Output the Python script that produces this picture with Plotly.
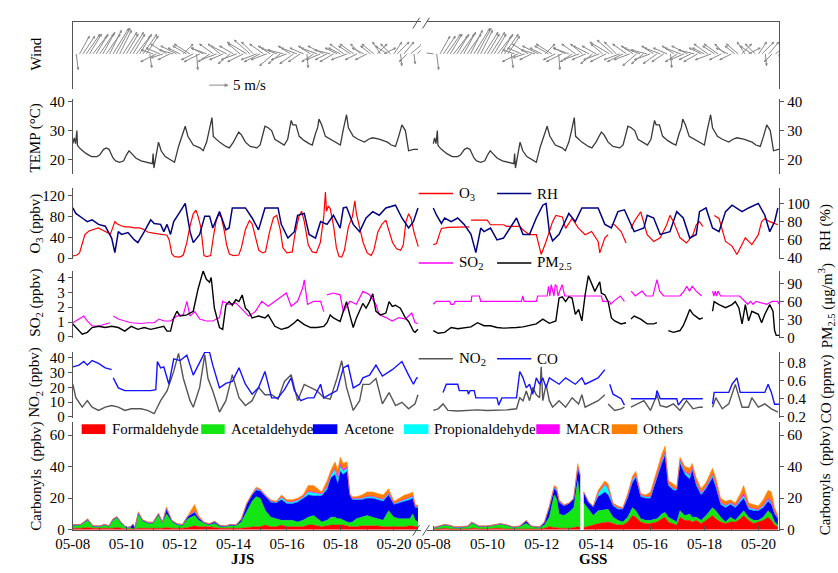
import math
import pandas as pd
import plotly.graph_objects as go

W, H = 838, 573
FONT = "Liberation Serif"
BASE = pd.Timestamp("2017-05-08 00:00")

# ---------------- data: (day of May, value) ----------------
temp = [(8.0,25.5),(8.05,27.5),(8.1,25.5),(8.15,30),(8.17,25),(8.2,24.5),(8.3,23.5),(8.5,22),(8.7,21),(8.9,21),
        (9.0,21.5),(9.15,23.5),(9.25,24),(9.35,23.5),(9.5,20.5),(9.6,19.5),(9.75,19),(9.9,19.5),
        (10.0,21.5),(10.1,23),(10.2,22),(10.35,20.5),(10.55,19.5),(10.8,19),(10.97,18.5),
        (11.0,22),(11.03,17),(11.2,26),(11.3,23),(11.45,21),(11.65,20),(11.8,19),(11.95,24.5),
        (12.05,27),(12.13,29.5),(12.2,31.5),(12.3,28),(12.5,25),(12.75,24),(12.87,23),
        (13.0,26),(13.1,30),(13.2,34.5),(13.25,28),(13.35,27),(13.48,26),(13.72,24.5),(13.85,24),
        (14.0,26),(14.1,28),(14.2,29.5),(14.3,28.5),(14.45,26),(14.63,24.5),(14.88,24),
        (15.0,25),(15.1,29),(15.18,31.5),(15.3,31),(15.43,30),(15.55,27),(15.73,26),(15.9,25),
        (16.03,27),(16.1,31),(16.16,33.5),(16.22,32),(16.34,32),(16.46,28),(16.65,26.5),(16.83,25.5),(16.95,25),
        (17.07,29),(17.15,31),(17.2,34),(17.3,32),(17.44,28),(17.62,27),(17.8,26),
        (18.0,25),(18.1,30),(18.17,33),(18.23,35.5),(18.3,31),(18.48,28),(18.66,27),(18.9,26),
        (19.05,27),(19.2,27.5),(19.45,27),(19.6,26.5),(19.76,26),(19.9,25),
        (20.06,24.5),(20.18,28),(20.25,30),(20.3,32),(20.43,30),(20.5,26),(20.55,23),(20.73,23.5),(20.9,23.5)]

o3_jjs = [(8.0,4),(8.15,6),(8.25,10),(8.35,30),(8.45,45),(8.6,52),(8.75,55),(8.95,58),(9.1,54),(9.25,50),(9.4,46),
          (9.5,60),(9.57,70),(9.65,66),(9.8,62),(9.95,60),(10.1,60),(10.3,58),(10.5,58),(10.65,55),(10.8,50),
          (11.0,48),(11.2,47),(11.4,45),(11.52,44),(11.6,35),(11.7,8),(11.8,3),(12.0,2),(12.13,6),(12.26,30),
          (12.38,62),(12.5,85),(12.6,92),(12.68,80),(12.78,60),(12.85,30),(12.9,5),(13.0,3),(13.15,5),(13.25,40),
          (13.35,70),(13.45,85),(13.55,78),(13.65,55),(13.75,25),(13.85,8),(14.0,5),(14.2,6),(14.3,20),(14.45,55),
          (14.6,72),(14.7,66),(14.85,35),(14.95,15),(15.1,10),(15.2,12),(15.35,50),(15.5,78),(15.62,82),(15.75,55),
          (15.85,20),(16.0,10),(16.2,12),(16.3,45),(16.45,80),(16.55,90),(16.65,70),(16.8,25),(16.95,12),(17.1,10),
          (17.25,30),(17.38,80),(17.44,127),(17.48,90),(17.55,100),(17.62,95),(17.75,60),(17.85,20),(17.95,3),
          (18.05,2),(18.15,15),(18.3,60),(18.45,80),(18.54,110),(18.6,85),(18.72,60),(18.85,30),(19.0,10),
          (19.15,5),(19.25,15),(19.4,50),(19.55,65),(19.7,73),(19.8,55),(19.95,30),(20.1,18),(20.25,15),
          (20.35,25),(20.45,70),(20.55,85),(20.65,75),(20.75,50),(20.85,35),(20.91,22)]

rh_jjs = [(8.0,95),(8.11,89),(8.35,84),(8.54,80),(8.72,82),(8.96,77),(9.21,75),(9.45,62),(9.57,46),(9.7,69),
          (9.82,66),(10.06,68),(10.3,60),(10.43,57),(10.67,69),(10.91,82),(11.04,78),(11.28,77),(11.4,69),
          (11.52,77),(11.65,66),(11.77,80),(12.01,91),(12.2,100),(12.38,69),(12.5,57),(12.74,66),(12.93,86),
          (13.11,86),(13.23,73),(13.48,91),(13.72,71),(13.84,73),(13.96,95),(14.45,95),(14.7,84),(14.94,71),
          (15.18,95),(15.67,95),(15.79,77),(16.04,62),(16.28,69),(16.4,87),(16.65,89),(16.83,66),(17.07,62),
          (17.26,80),(17.5,77),(17.74,87),(17.99,73),(18.11,95),(18.23,96),(18.48,77),(18.72,69),(18.96,84),
          (19.21,91),(19.45,87),(19.7,95),(20.06,98),(20.3,84),(20.55,73),(20.73,80),(20.9,95)]

o3_gss = [(8.0,26),(8.12,28),(8.22,45),(8.3,57),(8.54,59),(9.02,59),(9.14,60),(9.33,60),(9.36,None),(9.39,73),
          (9.99,73),(10.11,64),(10.59,64),(10.71,61),(11.19,61),(11.31,54),(11.55,45),(11.8,45),(11.92,20),
          (11.98,7),(12.16,32),(12.4,70),(12.52,82),(12.76,79),(12.88,57),(13.12,76),(13.36,57),(13.6,45),
          (13.84,51),(14.08,32),(14.14,10),(14.33,39),(14.45,45),(14.5,None),(14.57,64),(14.69,64),(14.93,51),
          (15.11,29),(15.2,None),(15.29,57),(15.41,70),(15.65,89),(15.89,45),(16.13,32),(16.37,39),(16.61,64),
          (16.73,82),(16.86,70),(17.1,39),(17.34,29),(17.58,45),(17.7,64),(17.82,70),(17.94,61),(18.1,None),
          (18.36,82),(18.54,76),(18.78,32),(19.02,23),(19.2,7),(19.51,39),(19.75,26),(19.99,45),(20.11,70),
          (20.23,76),(20.41,70),(20.71,64)]

rh_gss = [(8.0,95),(8.12,87),(8.3,78),(8.42,84),(8.66,80),(8.9,84),(9.14,77),(9.39,66),(9.57,46),(9.75,73),
          (9.87,69),(10.11,73),(10.35,60),(10.59,62),(10.83,73),(11.07,84),(11.31,66),(11.55,66),(11.8,84),
          (12.04,98),(12.16,100),(12.28,69),(12.4,59),(12.64,66),(13.0,89),(13.24,80),(13.48,95),(14.08,95),
          (14.33,77),(14.57,73),(14.81,91),(15.05,93),(15.41,69),(15.77,73),(15.89,87),(16.13,84),(16.37,66),
          (16.73,69),(16.98,91),(17.22,84),(17.46,62),(17.7,66),(17.82,91),(18.06,95),(18.3,73),(18.54,69),
          (18.78,91),(19.02,98),(19.39,91),(19.63,95),(19.99,100),(20.23,87),(20.41,69),(20.59,80),(20.71,95)]

so2_jjs = [(8.0,0.95),(8.23,1.2),(8.41,1.4),(8.54,1.07),(8.72,0.73),(8.96,0.73),(9.21,0.84),(9.39,0.95),(9.42,None),
           (9.51,1.4),(9.7,1.2),(9.94,1.07),(10.18,0.95),(10.55,0.9),(10.79,0.95),(11.04,0.95),(11.22,1.2),(11.4,1.07),
           (11.65,1.07),(11.89,1.4),(12.13,1.5),(12.26,2.4),(12.38,1.4),(12.56,1.7),(12.74,1.2),(12.99,1.07),
           (13.23,1.07),(13.48,1.3),(13.6,2.4),(13.84,2.2),(14.09,2.3),(14.33,1.85),(14.57,1.4),(14.82,1.7),
           (15.06,2.4),(15.3,2.07),(15.55,2.4),(15.79,2.7),(15.98,2.96),(16.16,2.07),(16.4,2.4),(16.59,3.3),
           (16.65,3.85),(16.77,2.2),(17.01,2.4),(17.26,2.4),(17.38,1.7),(17.44,None),(17.5,2.84),(17.74,2.96),
           (17.99,2.84),(18.11,1.7),(18.35,2.4),(18.6,2.2),(18.84,3.07),(19.09,2.84),(19.33,2.2),(19.45,1.5),
           (19.7,1.3),(19.94,1.07),(20.18,1.3),(20.43,1.2),(20.67,1.6),(20.79,0.95),(20.9,0.9)]

pm_jjs = [(8.0,23),(8.17,14),(8.35,6),(8.54,9),(8.72,17),(8.96,19),(9.21,17),(9.45,19),(9.7,17),(9.94,11),
          (10.18,19),(10.43,14),(10.67,17),(10.91,14),(11.16,17),(11.4,19),(11.52,11),(11.65,11),(11.77,33),
          (11.89,44),(12.01,36),(12.26,38),(12.5,44),(12.68,81),(12.87,111),(12.99,97),(13.11,92),(13.17,100),
          (13.29,49),(13.48,17),(13.6,14),(13.72,54),(13.84,60),(13.96,54),(14.09,63),(14.21,60),(14.33,71),
          (14.45,49),(14.57,44),(14.7,33),(14.94,36),(15.18,33),(15.3,38),(15.55,19),(15.79,14),(16.04,17),
          (16.28,25),(16.4,30),(16.65,22),(16.89,17),(17.13,17),(17.38,19),(17.5,25),(17.62,38),(17.74,33),
          (17.99,27),(18.11,44),(18.23,60),(18.35,38),(18.48,17),(18.6,33),(18.72,44),(18.84,57),(18.96,49),
          (19.09,60),(19.21,73),(19.33,44),(19.51,38),(19.7,41),(19.82,60),(19.94,52),(20.06,54),(20.24,49),
          (20.43,33),(20.55,27),(20.73,11),(20.79,9),(20.9,14)]

so2_gss = [(8.0,2.2),(8.1,2.4),(8.6,2.4),(8.65,2.2),(8.75,2.2),(8.8,2.4),(9.4,2.4),(9.42,2.76),(9.7,2.76),
           (9.75,2.4),(11.25,2.4),(11.3,2.76),(11.35,2.4),(11.8,2.4),(11.85,2.76),(12.2,2.76),(12.25,3.42),
           (12.3,2.76),(12.35,3.53),(12.45,2.76),(12.5,3.53),(12.55,3.42),(12.6,2.76),(12.75,3.53),(12.85,2.76),
           (14.2,2.76),(14.25,2.4),(14.5,2.4),(14.55,2.2),(14.65,2.4),(14.9,2.76),(15.05,2.4),(15.15,None),
           (15.3,3.09),(15.45,2.76),(15.7,3.09),(15.85,2.76),(16.1,2.76),(16.15,3.09),(16.25,3.87),(16.35,3.09),
           (16.5,2.76),(17.1,2.76),(17.25,3.09),(17.35,3.42),(17.45,3.09),(17.55,3.42),(17.7,3.09),(17.9,2.76),
           (18.1,None),(18.3,3.09),(18.35,2.76),(18.4,3.09),(18.45,2.76),(18.5,3.09),(18.6,2.76),(19.3,2.76),
           (19.5,2.4),(19.6,2.2),(19.7,2.4),(19.8,2.2),(19.9,2.4),(20.3,2.2),(20.5,2.4),(20.7,2.4),(20.75,2.2)]

pm_gss = [(8.0,12),(8.18,7.5),(8.42,9),(8.66,17),(8.9,15),(9.14,17),(9.39,18),(9.63,25),(9.87,20),(10.11,20),
          (10.35,17),(10.59,16),(10.83,16),(11.07,17),(11.31,18),(11.55,20),(11.8,23),(12.04,31),(12.28,24),
          (12.52,28),(12.64,66),(12.76,68),(12.88,60),(13.0,68),(13.12,66),(13.24,39),(13.36,47),(13.48,28),
          (13.6,71),(13.72,103),(13.84,90),(13.96,77),(14.14,93),(14.2,74),(14.33,71),(14.45,60),(14.57,33),
          (14.69,28),(14.93,23),(15.11,25),(15.2,None),(15.29,31),(15.41,36),(15.65,31),(15.89,23),(16.13,23),
          (16.25,25),(16.4,None),(16.67,12),(16.86,9),(17.1,12),(17.22,20),(17.34,33),(17.46,47),(17.58,39),
          (17.82,31),(17.94,33),(18.1,None),(18.3,44),(18.36,60),(18.54,55),(18.78,50),(19.02,55),(19.14,60),
          (19.27,50),(19.39,23),(19.51,55),(19.63,28),(19.75,44),(19.99,39),(20.11,25),(20.23,39),(20.41,55),
          (20.53,44),(20.59,12),(20.65,4),(20.77,4)]

no2_jjs = [(8.0,22),(8.11,13),(8.35,6.6),(8.54,11),(8.72,6.6),(8.96,4.4),(9.21,6.6),(9.45,7.7),(9.7,6.6),
           (9.94,4.4),(10.18,5.5),(10.55,5.5),(10.79,4.4),(11.04,2.2),(11.28,11),(11.52,17.6),(11.77,30.8),
           (11.95,43),(12.13,26),(12.38,11),(12.5,6.6),(12.74,20),(12.93,42),(13.05,26),(13.23,17.6),(13.48,3.3),
           (13.72,11),(13.96,28.6),(14.21,13),(14.45,7.7),(14.7,11),(14.94,20),(15.18,15),(15.43,15),(15.67,12),
           (15.91,24),(16.16,28.6),(16.4,11),(16.65,22),(16.89,20),(17.13,17.6),(17.38,13),(17.62,12),(17.87,26),
           (18.05,38),(18.23,20),(18.48,4.4),(18.72,11),(18.84,22),(19.09,22),(19.33,26),(19.57,8.8),(19.82,16.5),
           (20.06,7.7),(20.3,9.9),(20.55,5.5),(20.79,8.8),(20.9,15)]

co_jjs = [(8.0,0.75),(8.23,0.77),(8.41,0.81),(8.54,0.77),(8.72,0.82),(8.96,0.79),(9.21,0.74),(9.45,0.72),
          (9.48,None),(9.51,0.63),(9.7,0.52),(9.94,0.49),(10.18,0.49),(10.55,0.49),(10.91,0.49),(11.1,0.5),
          (11.16,0.81),(11.28,0.74),(11.4,0.75),(11.59,0.56),(11.77,0.84),(12.01,0.82),(12.26,0.88),(12.5,0.66),
          (12.74,0.81),(12.93,0.91),(13.11,0.91),(13.23,0.77),(13.48,0.52),(13.72,0.57),(13.96,0.59),(14.21,0.74),
          (14.45,0.56),(14.7,0.45),(14.94,0.52),(15.18,0.7),(15.43,0.41),(15.67,0.41),(15.91,0.5),(16.16,0.63),
          (16.28,0.49),(16.52,0.38),(16.77,0.41),(17.01,0.41),(17.26,0.56),(17.38,0.41),(17.62,0.45),(17.87,0.49),
          (18.11,0.74),(18.29,0.77),(18.48,0.52),(18.72,0.56),(18.84,0.63),(19.09,0.66),(19.33,0.77),(19.57,0.65),
          (19.94,0.72),(20.3,0.81),(20.55,0.66),(20.73,0.56),(20.85,0.63),(20.9,0.63)]

no2_gss = [(8.0,4.4),(8.18,5.5),(8.36,8.8),(8.54,4.4),(8.9,4),(9.27,4.4),(9.63,4.8),(9.99,4.4),(10.35,4.4),
           (10.71,4.8),(11.07,5.5),(11.19,13),(11.31,11),(11.43,17.6),(11.55,11),(11.67,20),(11.8,15),(11.92,13),
           (11.98,34),(12.04,11),(12.16,22),(12.28,11),(12.4,6.6),(12.64,11),(12.88,6.6),(13.12,13),(13.36,8.8),
           (13.48,15),(13.6,6.6),(13.84,8.8),(14.08,11),(14.33,15),(14.4,None),(14.45,8.8),(14.69,4.4),(14.93,5.5),
           (15.05,6.6),(15.2,None),(15.29,6.6),(15.53,8.8),(15.77,11),(16.01,4.4),(16.25,15),(16.37,7.7),
           (16.61,6.6),(16.86,8.8),(17.1,4.4),(17.34,11),(17.58,5.5),(17.82,6.6),(17.94,6.6),(18.1,None),
           (18.3,6.6),(18.42,13),(18.66,5.5),(18.9,8.8),(19.14,22),(19.39,6.6),(19.63,6.6),(19.75,13),(19.99,6.6),
           (20.23,8.8),(20.47,5.5),(20.71,3.3)]

co_gss = [(8.36,0.47),(8.48,0.56),(8.9,0.56),(8.96,0.49),(9.27,0.49),(9.29,0.45),(9.36,0.49),(9.51,0.49),
          (9.57,0.41),(10.35,0.41),(10.41,0.33),(10.53,0.41),(11.07,0.41),(11.19,0.7),(11.31,0.63),(11.43,0.52),
          (11.55,0.56),(11.67,0.45),(11.8,0.63),(11.92,0.56),(12.04,0.63),(12.16,0.52),(12.28,0.63),(12.64,0.56),
          (12.88,0.63),(13.24,0.56),(13.48,0.63),(13.6,0.56),(14.08,0.63),(14.33,0.72),(14.4,None),(14.51,0.56),
          (14.63,0.45),(14.93,0.40),(15.05,0.33),(15.2,None),(15.29,0.40),(16.2,0.40),(16.25,0.49),(16.37,0.40),
          (16.98,0.40),(17.04,0.33),(17.22,0.40),(17.94,0.40),(18.1,None),(18.3,0.34),(18.36,0.47),(18.9,0.47),
          (19.02,0.56),(19.2,0.63),(19.32,0.47),(20.23,0.47),(20.35,0.56),(20.47,0.47),(20.59,0.34),(20.77,0.34)]

# wind every 3 h from 05-08 00:00 (u, v in m/s)
wind_u = [-4, 0.5, 2.5, 3, 3.5, 3, 3.5, 3,
          3.5, 3, 3.5, 3, 4, 3.5, 3, 3.5,
          3, 3.5, 3, 3.5, 3, 3.5, 3, 0.5,
          -3, -4, -3.5, -3, -4, -3, -3.5, -4,
          -3, 2.5, -3.5, -4, -3, 0.3, -4, -3,
          -4, -3, -3.5, -4, -3, -3.5, -4, -3,
          -3.5, -4, -3, -4, -5, -4, -3, -4,
          -4, -3.5, -4, -3, -3.5, -4, -3, -4,
          -4, -3, -3.5, -4, -3, -3.5, 0.3, -3,
          -3, -4, -3.5, -4, -3, -4, -3.5, -3,
          -3, -3.5, -4, -3, -3.5, -3, -2.5, -3,
          -3, -2.5, -3, 2.5, -2, 3, -3, -2.5,
          2, 3, 0.3, 2.5, -2, 3, 0.3, 2]
wind_v = [0.5, -4, 4.5, 4.5, 5, 5, 4.5, 5,
          5, 5.5, 5, 6, 6.5, 6.5, 6, 5.5,
          5, 5.5, 5, 4.5, 5, 5, 4.5, -3.5,
          1, -2, 1.5, -1, 2.5, -1.5, 1, 2,
          1.5, 2.5, 2, 2.5, -1.5, -4, -2, 1.5,
          1.5, -2, 2.5, -1.5, 2.5, -1.5, 2, -2.5,
          2, -1.5, 2.5, -2, 3, 3.5, 3, -1.5,
          -2, 2.5, -1.5, 2, -3, 1.5, -2.5, 1,
          -1.5, 2, -2.5, 1.5, -2, 1.5, -3.5, 2,
          -2, 1.5, -1.5, 2, -1.5, 1, -2, 1.5,
          1.5, 2.5, -1.5, 2, 2.5, -1.5, 2.5, 1.5,
          -1.5, 2, 2.5, 2.5, 3, 1.5, 2, 2.5,
          3, 3, -3, 3, -2, 2.5, -2.5, 2]

# carbonyls (ppbv)
carb_jjs_t = [8.0, 8.3, 8.55, 8.75,
              9.0, 9.2, 9.35, 9.5, 9.65, 9.8,
              10.0, 10.15, 10.25, 10.32, 10.45, 10.6, 10.8,
              11.0, 11.2, 11.35, 11.5, 11.7, 11.9,
              12.1, 12.3, 12.55, 12.7, 12.9,
              13.1, 13.3, 13.5, 13.7, 13.9,
              14.1, 14.3, 14.5, 14.7, 14.85,
              15.0, 15.2, 15.4, 15.6, 15.8,
              16.0, 16.2, 16.4, 16.6, 16.8,
              17.0, 17.15, 17.3, 17.5, 17.65, 17.8, 17.9,
              18.0, 18.1, 18.25, 18.35, 18.45, 18.6, 18.8,
              19.0, 19.2, 19.4, 19.6, 19.8,
              20.0, 20.2, 20.4, 20.6, 20.7, 20.8, 20.9]
hcho_jjs = [1, 1, 1.5, 1,
            1, 1, 1, 1, 1.5, 1,
            0.5, 0.5, 0.3, 0.5, 1, 1, 1,
            1, 1, 1, 1.5, 1, 1,
            1, 1.5, 2.5, 2, 2,
            2, 1.5, 1, 1, 1,
            1, 1, 1.5, 2, 2,
            2, 3, 2, 2, 3,
            2, 2, 2, 2, 3,
            3, 2.5, 2, 2.5, 3, 3, 3,
            3, 3, 2.5, 2, 2, 2, 2.5,
            2.5, 2.5, 2.5, 2, 2,
            2, 2, 2, 2.5, 2.5, 2, 2]
acetald_jjs = [1.5, 2, 4.5, 1,
               1, 2, 1, 5, 6, 3,
               0.5, 1, 0.2, 0.5, 8.5, 4.5, 3,
               3, 8, 3, 8.5, 4, 2,
               1.5, 5.5, 6.5, 4, 2,
               1, 2.5, 1, 1, 1.5,
               1.5, 4, 10.5, 16, 19,
               18, 9, 6, 5, 3,
               4, 4, 3, 4, 5,
               6, 4.5, 3, 3.5, 5, 5, 4,
               4, 3, 2.5, 2.5, 3, 5, 5.5,
               6.5, 5.5, 4.5, 4, 10,
               6, 5, 5, 4.5, 7.5, 4, 3]
acetone_jjs = [0.5, 0.3, 0.5, 0.3,
               0.3, 0.3, 0.3, 0.5, 0.5, 0.5,
               0.3, 0.3, 3, 0.3, 1, 0.5, 0.5,
               0.5, 1, 0.5, 3, 0.5, 0.5,
               0.5, 1.5, 2, 1.5, 0.5,
               0.5, 1, 0.5, 0.3, 0.7,
               0.5, 1.5, 4, 4, 4,
               4.5, 9, 9.5, 10, 13,
               10.5, 10.5, 12.5, 13.5, 14,
               12.5, 14.5, 16.5, 19.5, 25, 27, 22,
               30, 29, 32, 17.5, 14, 12, 11,
               11, 12, 12, 12, 10,
               8, 10, 11, 12, 10, 8, 9]
prop_jjs = [0.1, 0.1, 0.2, 0.1,
            0.1, 0.1, 0.1, 0.2, 0.2, 0.2,
            0.1, 0.1, 0.1, 0.1, 0.3, 0.2, 0.2,
            0.2, 0.2, 0.2, 0.5, 0.2, 0.2,
            0.2, 0.2, 0.5, 0.3, 0.2,
            0.2, 0.2, 0.2, 0.1, 0.1,
            0.1, 0.2, 0.4, 0.4, 0.8,
            0.6, 0.4, 0.6, 0.4, 1.5,
            1, 1, 1, 1, 2,
            2, 1.5, 1, 1.5, 1.5, 3, 3,
            3, 2, 2, 0.4, 0.6, 0.6, 0.8,
            1, 1, 1, 1, 1,
            0.6, 0.8, 1, 1, 1, 0.6, 0.4]
macr_jjs = [0, 0, 0, 0,
            0, 0, 0, 0, 0, 0,
            0, 0, 0, 0, 0, 0, 0,
            0, 0, 0, 0.1, 0, 0,
            0, 0, 0.2, 0.1, 0,
            0, 0, 0, 0, 0,
            0, 0, 0.1, 0.1, 0.2,
            0.2, 0.1, 0.2, 0.1, 0.3,
            0.3, 0.3, 0.3, 0.3, 0.5,
            0.5, 0.5, 0.3, 0.5, 0.5, 1, 1,
            1.5, 1, 1, 0.1, 0.2, 0.2, 0.2,
            0.3, 0.3, 0.3, 0.3, 0.3,
            0.2, 0.2, 0.3, 0.3, 0.3, 0.2, 0.1]
others_jjs = [0.1, 0.2, 0.3, 0.3,
              0.1, 0.2, 0.1, 0.3, 0.3, 0.3,
              0.1, 0.1, 0.1, 0.1, 0.7, 0.3, 0.3,
              0.3, 0.3, 0.3, 0.9, 0.3, 0.3,
              0.3, 0.3, 4.3, 1.1, 0.3,
              0.3, 0.3, 0.3, 0.1, 0.2,
              0.1, 0.3, 0.5, 0.5, 1,
              0.7, 0.5, 0.7, 0.5, 1.2,
              1.2, 1.2, 1.2, 1.2, 3.5,
              4, 2.5, 1.2, 3.5, 3, 4, 5,
              4.5, 4, 3, 0.5, 1.2, 1.2, 2,
              2.7, 2.7, 2.7, 2.7, 2.7,
              1.2, 2, 2.7, 2.7, 2.7, 1.2, 1]

carb_gss_t = [8.0, 8.18, 8.42, 8.6, 8.78,
              9.0, 9.27, 9.42, 9.51, 9.69,
              10.0, 10.29, 10.47, 10.65, 10.95,
              11.19, 11.43, 11.61, 11.92,
              12.1, 12.28, 12.46, 12.55, 12.64, 12.82,
              13.0, 13.18, 13.33, 13.42, 13.48, 13.55, 13.72, 13.9,
              14.08, 14.33, 14.45, 14.63, 14.81, 14.99,
              15.17, 15.35, 15.47, 15.65, 15.83,
              16.01, 16.25, 16.43, 16.55, 16.67, 16.86, 16.98,
              17.1, 17.28, 17.46, 17.55, 17.7, 17.88,
              18.06, 18.3, 18.42, 18.6, 18.78, 18.96,
              19.14, 19.33, 19.45, 19.63, 19.81, 19.99,
              20.17, 20.35, 20.47, 20.59, 20.71]
hcho_gss = [0.5, 0.5, 1, 0.5, 0.5,
            0.5, 0.5, 1, 1, 0.5,
            0.5, 1, 1, 0.5, 0.5,
            0.5, 0.5, 0.5, 0.5,
            1, 2, 1.5, 1.5, 1, 1,
            1, 1.5, 2, 1.5, None, 1.5, 2, 3,
            4, 5, 5, 4, 3, 3,
            5, 9, 8, 5, 4,
            4, 5, 7, 8, 5, 4, 3,
            8, 6, 6, 5, 6, 4,
            6, 9, 7, 5, 4, 5,
            5, 7, 9, 6, 4, 5,
            6, 8, 6, 3, 2]
acetald_gss = [0.5, 1.5, 2, 2, 1,
               1, 1.5, 3, 2.5, 1.5,
               1.5, 2, 2.5, 2.5, 1,
               1.5, 3.5, 1.5, 1,
               2, 6, 20.5, 18, 9, 8,
               10, 12.5, 29, 16.5, None, 15.5, 11, 6,
               8, 8, 8, 4, 3, 2,
               3, 5, 4, 2, 2,
               2, 2, 3, 3, 3, 2, 2,
               4, 3, 4, 3, 2, 2,
               3, 5, 5, 3, 1, 3,
               1, 3, 3, 2, 2, 1,
               2, 4, 4, 2, 1]
acetone_gss = [0.2, 0.2, 0.2, 0.2, 0.2,
               0.2, 0.2, 0.5, 0.2, 0.2,
               0.2, 0.2, 0.2, 0.2, 0.2,
               0.2, 1.5, 0.2, 0.2,
               1.5, 6, 4, 5, 7.5, 6,
               5.5, 5.5, 7, 16, None, 6.5, 4.5, 5.5,
               9, 11, 9, 7, 7, 8,
               12, 16, 21, 14, 14,
               14, 26, 32, 36, 20, 19, 20,
               30, 26, 22, 30, 20, 16,
               17, 19, 15, 8, 9, 8,
               8, 8, 8, 5, 6, 6,
               6, 6, 6, 5, 4]
prop_gss = [0.1, 0.1, 0.1, 0.1, 0.1,
            0.1, 0.1, 0.2, 0.1, 0.1,
            0.1, 0.1, 0.1, 0.1, 0.1,
            0.1, 0.2, 0.1, 0.1,
            0.2, 0.3, 0.8, 1, 0.5, 0.4,
            0.2, 0.2, 1.5, 0.5, None, 0.2, 0.2, 0.2,
            2, 4.5, 4, 0.8, 0.8, 0.4,
            1, 1.5, 1.5, 0.8, 0.8,
            1, 1.5, 1.5, 1.5, 0.8, 1, 0.6,
            1.5, 1.5, 2, 1, 1.5, 1,
            1, 1.5, 1.5, 1, 1, 0.8,
            0.8, 1, 1.5, 1, 1, 0.5,
            1, 1, 1, 0.8, 0.5]
macr_gss = [0, 0, 0, 0, 0,
            0, 0, 0, 0, 0,
            0, 0, 0, 0, 0,
            0, 0, 0, 0,
            0, 0.1, 0.2, 0.2, 0.1, 0.1,
            0.1, 0.1, 0.3, 0.1, None, 0.1, 0.1, 0.1,
            0.2, 0.3, 0.3, 0.2, 0.2, 0.1,
            0.3, 0.3, 0.3, 0.2, 0.2,
            0.3, 0.5, 0.5, 0.5, 0.2, 0.3, 0.2,
            0.5, 0.5, 1, 0.5, 0.5, 0.5,
            0.5, 0.5, 0.5, 0.5, 0.5, 0.5,
            0.5, 1, 1.5, 0.5, 0.5, 0.5,
            0.5, 1, 1, 0.5, 0.3]
others_gss = [0.2, 0.2, 0.2, 0.2, 0.2,
              0.2, 0.2, 0.3, 0.2, 0.2,
              0.2, 0.2, 0.2, 0.2, 0.2,
              0.2, 0.3, 0.2, 0.2,
              0.3, 0.6, 1, 1.3, 0.9, 0.5,
              0.2, 0.2, 2.2, 0.4, None, 0.2, 0.2, 0.2,
              1.8, 2.2, 2.7, 1, 1, 0.5,
              1.7, 2.2, 2.2, 1, 1,
              2.7, 3, 4, 4, 2, 2.7, 1.2,
              2, 3, 4, 2.5, 3, 2.5,
              2.5, 4, 4, 2.5, 2.5, 1.7,
              1.7, 3, 5, 2.5, 2.5, 2,
              3.5, 5, 6, 2.7, 1.2]

SPECIES = ["Formaldehyde", "Acetaldehyde", "Acetone", "Propionaldehyde", "MACR", "Others"]
SP_COLORS = ["#ff0000", "#14e614", "#0000f0", "#00ffff", "#ff00ff", "#ff8000"]

# ---------------- helpers ----------------
def xy(pairs):
    return [p[0] for p in pairs], [p[1] for p in pairs]

def dt1(d):
    return None if d is None else BASE + pd.Timedelta(hours=(d - 8.0) * 24.0)

def dts(days):
    return [dt1(d) for d in days]

def nm(prefix, k):
    return prefix if k == 1 else f"{prefix}{k}"

def fx(px):
    return px / W

def fy(px):
    return 1 - px / H

COLS = [dict(px0=57, px1=412, d0=7.999, d1=21.0),
        dict(px0=418, px1=778, d0=7.75, d1=20.76)]
for C in COLS:
    C["ppd"] = (C["px1"] - C["px0"]) / (C["d1"] - C["d0"])

ROWS = [
    dict(top=17, bot=86, p=(0, 50, 10, 40), dt=None),
    dict(top=96, bot=173, p=(40, 99, 20, 158), dt=10),
    dict(top=187, bot=260, p=(120, 195, 0, 259), dt=40, s=(100, 203, 40, 259), sdt=20),
    dict(top=272, bot=341, p=(4, 279, 0, 339.5), dt=1, s=(90, 285, 0, 340.5), sdt=30),
    dict(top=355, bot=423, p=(40, 361, 0, 421.5), dt=10, s=(0.8, 365.7, 0.2, 421.5), sdt=0.2),
    dict(top=427, bot=537, p=(60, 440, 0, 537), dt=20),
]

def vrange(top, bot, ref):
    v1, p1, v2, p2 = ref
    s = (v2 - v1) / (p2 - p1)
    return [v1 + (bot - p1) * s, v1 + (top - p1) * s]

LINE = "#555555"
TICKFONT = dict(family=FONT, size=15, color="black")

layout = dict(width=W, height=H, margin=dict(l=0, r=0, t=0, b=0),
              paper_bgcolor="white", plot_bgcolor="white", showlegend=False,
              font=dict(family=FONT, size=15, color="black"))

def k_of(r, c):
    return r * 2 + c + 1

def k2_of(r, c):
    return 13 + (r - 2) * 2 + c

for r, R in enumerate(ROWS):
    for c, C in enumerate(COLS):
        k = k_of(r, c)
        xa = dict(domain=[fx(C["px0"]), fx(C["px1"])], type="date",
                  range=dts([C["d0"], C["d1"]]), anchor=nm("y", k),
                  showgrid=False, zeroline=False, fixedrange=True)
        if r == 0:
            xa.update(visible=True, side="top", showline=True, linecolor=LINE, linewidth=1,
                      showticklabels=False, ticks="")
        elif r == 5:
            xa.update(visible=True, showline=True, linecolor=LINE, linewidth=1,
                      ticks="inside", ticklen=4, tickcolor=LINE, tickformat="%m-%d",
                      dtick=2 * 86400000, tick0="2017-05-08", tickfont=TICKFONT,
                      minor=dict(ticks="inside", ticklen=2, dtick=86400000, tick0="2017-05-08",
                                 tickcolor=LINE, showgrid=False))
        else:
            xa.update(visible=False)
        layout[nm("xaxis", k)] = xa

        ya = dict(domain=[fy(R["bot"]), fy(R["top"])], range=vrange(R["top"], R["bot"], R["p"]),
                  anchor=nm("x", k), showgrid=False, zeroline=False, fixedrange=True,
                  side="left" if c == 0 else "right", showline=True, linecolor=LINE, linewidth=1,
                  ticks="outside", ticklen=4, tickcolor=LINE, tickfont=TICKFONT)
        if R["dt"] is None:
            ya.update(ticks="", showticklabels=False)
        else:
            ya.update(dtick=R["dt"], tick0=0)
        if c == 1 and "s" in R:
            ya.update(visible=False)
        layout[nm("yaxis", k)] = ya

        if "s" in R:
            k2 = k2_of(r, c)
            ya2 = dict(overlaying=nm("y", k), anchor=nm("x", k), side="right",
                       range=vrange(R["top"], R["bot"], R["s"]), showgrid=False, zeroline=False,
                       fixedrange=True, showline=True, linecolor=LINE, linewidth=1,
                       ticks="outside", ticklen=4, tickcolor=LINE, tickfont=TICKFONT,
                       dtick=R["sdt"], tick0=0, visible=(c == 1))
            layout[nm("yaxis", k2)] = ya2

fig = go.Figure(layout=layout)

def add_line(pairs, r, c, color, width=1.2, secondary=False):
    t, v = xy(pairs)
    k = k_of(r, c)
    yk = k2_of(r, c) if secondary else k
    fig.add_trace(go.Scatter(x=dts(t), y=v, mode="lines", connectgaps=False,
                             line=dict(color=color, width=width),
                             xaxis=nm("x", k), yaxis=nm("y", yk), hoverinfo="skip"))

# wind sticks (quiver drawn through the axes' own scale)
wind_t = [8.0 + 0.125 * i for i in range(len(wind_u))]
PX_PER_MS = 4.0
for c, C in enumerate(COLS):
    xs, ys = [], []
    for t, u, v in zip(wind_t, wind_u, wind_v):
        dx, dy = u * PX_PER_MS, v * PX_PER_MS
        tx, ty = t + dx / C["ppd"], dy
        xs += [t, tx, None]
        ys += [0, ty, None]
        if math.hypot(dx, dy) > 0:
            a = math.atan2(dy, dx)
            for s in (0.4, -0.4):
                hx = dx - 2.5 * math.cos(a + s)
                hy = dy - 2.5 * math.sin(a + s)
                xs += [tx, t + hx / C["ppd"], None]
                ys += [ty, hy, None]
    k = k_of(0, c)
    fig.add_trace(go.Scatter(x=dts(xs), y=ys, mode="lines", line=dict(color="#888888", width=1.0),
                             xaxis=nm("x", k), yaxis=nm("y", k), hoverinfo="skip"))

for c in (0, 1):
    add_line(temp, 1, c, "#3a3a3a", 1.3)

add_line(o3_jjs, 2, 0, "#ff0000", 1.2)
add_line(rh_jjs, 2, 0, "#000080", 1.5, secondary=True)
add_line(o3_gss, 2, 1, "#ff0000", 1.2)
add_line(rh_gss, 2, 1, "#000080", 1.5, secondary=True)

add_line(so2_jjs, 3, 0, "#ff00ff", 1.2)
add_line(pm_jjs, 3, 0, "#000000", 1.4, secondary=True)
add_line(so2_gss, 3, 1, "#ff00ff", 1.2)
add_line(pm_gss, 3, 1, "#000000", 1.4, secondary=True)

add_line(no2_jjs, 4, 0, "#555555", 1.4)
add_line(co_jjs, 4, 0, "#1414ff", 1.4, secondary=True)
add_line(no2_gss, 4, 1, "#555555", 1.4)
add_line(co_gss, 4, 1, "#1414ff", 1.4, secondary=True)

def add_stack(t, series, c):
    k = k_of(5, c)
    segs, cur = [], []
    for i in range(len(t)):
        if series[0][i] is None:
            if cur:
                segs.append(cur)
                cur = []
        else:
            cur.append(i)
    if cur:
        segs.append(cur)
    for si, idx in enumerate(segs):
        for name, vals, col in zip(SPECIES, series, SP_COLORS):
            fig.add_trace(go.Scatter(x=dts([t[i] for i in idx]), y=[vals[i] for i in idx],
                                     mode="lines", stackgroup=f"c{c}s{si}", name=name,
                                     line=dict(color=col, width=0.5), fillcolor=col,
                                     xaxis=nm("x", k), yaxis=nm("y", k), hoverinfo="skip"))

add_stack(carb_jjs_t, [hcho_jjs, acetald_jjs, acetone_jjs, prop_jjs, macr_jjs, others_jjs], 0)
add_stack(carb_gss_t, [hcho_gss, acetald_gss, acetone_gss, prop_gss, macr_gss, others_gss], 1)

# ---------------- annotations / legends ----------------
ann, shapes = [], []

def text(x, y, s, anchor="left", angle=0, size=15, bold=False, yanchor="middle", pad=1):
    if bold:
        s = f"<b>{s}</b>"
    ann.append(dict(x=fx(x), y=fy(y), xref="paper", yref="paper", text=s, showarrow=False,
                    xanchor=anchor, yanchor=yanchor, textangle=angle, borderpad=pad,
                    font=dict(family=FONT, size=size, color="black")))

for s, y in [("Wind", 50), ("TEMP (°C)", 136), ("O<sub>3</sub> (ppbv)", 224),
             ("SO<sub>2</sub> (ppbv)", 305), ("NO<sub>2</sub> (ppbv)", 386), ("Carbonyls  (ppbv)", 482)]:
    text(19, y, s, anchor="center", angle=-90)
for s, y in [("RH (%)", 228), ("PM<sub>2.5</sub> (μg/m<sup>3</sup>)", 308), ("CO (ppmv)", 393),
             ("Carbonyls  (ppbv)", 487)]:
    text(826, y, s, anchor="center", angle=-90)

def leg_line(x0, x1, y, color, label, w=1.5):
    shapes.append(dict(type="line", xref="paper", yref="paper", x0=fx(x0), x1=fx(x1), y0=fy(y), y1=fy(y),
                       line=dict(color=color, width=w)))
    text(x1 + 4, y, label)

leg_line(410, 445, 193, "#ff0000", "O<sub>3</sub>")
leg_line(490, 525, 193, "#000080", "RH")
leg_line(410, 445, 264, "#ff00ff", "SO<sub>2</sub>")
leg_line(490, 525, 264, "#000000", "PM<sub>2.5</sub>")
leg_line(410, 445, 362, "#555555", "NO<sub>2</sub>")
leg_line(490, 525, 362, "#1414ff", "CO")

for (x0, x1, tx), name, col in zip([(66, 90, 95), (188, 212, 216), (302, 327, 332), (395, 420, 424),
                                    (530, 554, 558), (607, 633, 637)], SPECIES, SP_COLORS):
    shapes.append(dict(type="rect", xref="paper", yref="paper", x0=fx(x0), x1=fx(x1),
                       y0=fy(439), y1=fy(429), fillcolor=col, line=dict(width=0)))
    text(tx, 434, name)

# 5 m/s reference arrow
ann.append(dict(x=fx(216), y=fy(82), ax=-21, ay=0, xref="paper", yref="paper",
                axref="pixel", ayref="pixel", text="", showarrow=True, arrowhead=2,
                arrowsize=0.8, arrowwidth=1, arrowcolor="#8c8c8c"))
text(218, 82, "5 m/s")

text(230, 576, "JJS", anchor="center", bold=True, yanchor="bottom", pad=0)
text(588, 576, "GSS", anchor="center", bold=True, yanchor="bottom", pad=0)

# axis break marks
for (x0, y0, x1, y1) in [(404, 24, 411, 13), (414, 24, 421, 13), (404, 543, 411, 532), (414, 543, 421, 532)]:
    shapes.append(dict(type="line", xref="paper", yref="paper", x0=fx(x0), y0=fy(y0), x1=fx(x1), y1=fy(y1),
                       line=dict(color=LINE, width=1)))

fig.update_layout(annotations=ann, shapes=shapes)
fig.write_html("out.html", config={"displayModeBar": False})
